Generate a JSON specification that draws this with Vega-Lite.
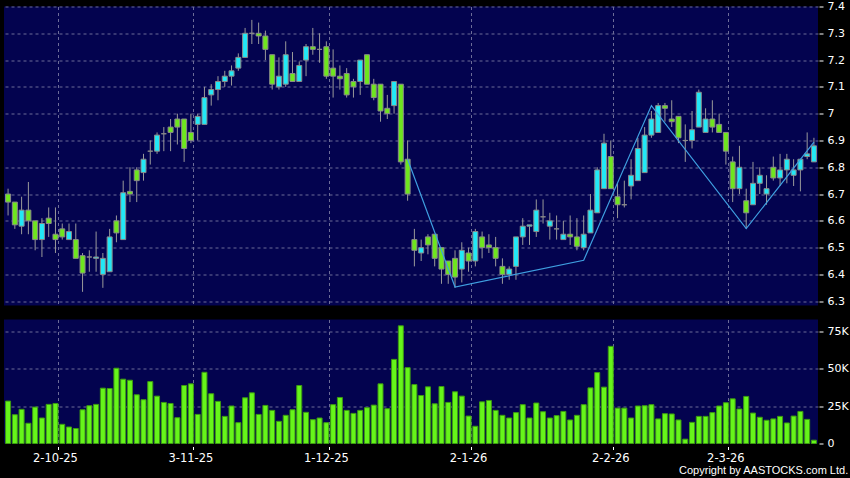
{
 "$schema": "https://vega.github.io/schema/vega-lite/v6.json",
 "background": "#000000",
 "autosize": {"type": "pad"},
 "padding": {"left": 4, "top": 0.5, "right": 4, "bottom": 12},
 "bounds": "flush",
 "spacing": 14,
 "data": {"values": [
{"d":"22-9-25","o":6.70,"h":6.72,"l":6.62,"c":6.67,"v":28300},
{"d":"23-9-25","o":6.67,"h":6.67,"l":6.57,"c":6.585,"v":19200},
{"d":"24-9-25","o":6.58,"h":6.69,"l":6.55,"c":6.64,"v":22800},
{"d":"25-9-25","o":6.64,"h":6.745,"l":6.55,"c":6.60,"v":13500},
{"d":"26-9-25","o":6.60,"h":6.60,"l":6.49,"c":6.53,"v":24300},
{"d":"29-9-25","o":6.53,"h":6.61,"l":6.465,"c":6.59,"v":17000},
{"d":"30-9-25","o":6.61,"h":6.65,"l":6.54,"c":6.59,"v":26100},
{"d":"2-10-25","o":6.55,"h":6.65,"l":6.48,"c":6.53,"v":26700},
{"d":"3-10-25","o":6.57,"h":6.59,"l":6.53,"c":6.54,"v":12800},
{"d":"6-10-25","o":6.53,"h":6.59,"l":6.53,"c":6.56,"v":11000},
{"d":"8-10-25","o":6.53,"h":6.59,"l":6.46,"c":6.46,"v":10000},
{"d":"9-10-25","o":6.47,"h":6.48,"l":6.335,"c":6.405,"v":22500},
{"d":"10-10-25","o":6.465,"h":6.49,"l":6.41,"c":6.465,"v":25200},
{"d":"13-10-25","o":6.46,"h":6.56,"l":6.41,"c":6.465,"v":26100},
{"d":"14-10-25","o":6.40,"h":6.48,"l":6.35,"c":6.46,"v":36900},
{"d":"15-10-25","o":6.41,"h":6.57,"l":6.41,"c":6.54,"v":36700},
{"d":"16-10-25","o":6.60,"h":6.62,"l":6.52,"c":6.555,"v":50200},
{"d":"17-10-25","o":6.53,"h":6.75,"l":6.53,"c":6.705,"v":42900},
{"d":"20-10-25","o":6.71,"h":6.80,"l":6.67,"c":6.70,"v":42200},
{"d":"21-10-25","o":6.79,"h":6.80,"l":6.67,"c":6.75,"v":32500},
{"d":"22-10-25","o":6.78,"h":6.85,"l":6.75,"c":6.83,"v":29200},
{"d":"23-10-25","o":6.86,"h":6.90,"l":6.81,"c":6.86,"v":41300},
{"d":"24-10-25","o":6.86,"h":6.93,"l":6.85,"c":6.92,"v":31600},
{"d":"27-10-25","o":6.925,"h":6.95,"l":6.86,"c":6.925,"v":27400},
{"d":"28-10-25","o":6.95,"h":6.98,"l":6.86,"c":6.93,"v":26700},
{"d":"30-10-25","o":6.98,"h":7.00,"l":6.885,"c":6.95,"v":17200},
{"d":"31-10-25","o":6.98,"h":6.98,"l":6.82,"c":6.87,"v":38700},
{"d":"3-11-25","o":6.93,"h":7.00,"l":6.89,"c":6.90,"v":39800},
{"d":"4-11-25","o":6.96,"h":7.00,"l":6.90,"c":6.99,"v":19400},
{"d":"5-11-25","o":6.96,"h":7.10,"l":6.96,"c":7.06,"v":47500},
{"d":"6-11-25","o":7.07,"h":7.11,"l":7.03,"c":7.09,"v":33200},
{"d":"7-11-25","o":7.09,"h":7.14,"l":7.05,"c":7.12,"v":28100},
{"d":"10-11-25","o":7.12,"h":7.16,"l":7.10,"c":7.14,"v":18100},
{"d":"11-11-25","o":7.14,"h":7.18,"l":7.105,"c":7.16,"v":25000},
{"d":"12-11-25","o":7.17,"h":7.225,"l":7.16,"c":7.21,"v":13900},
{"d":"13-11-25","o":7.21,"h":7.32,"l":7.21,"c":7.30,"v":30500},
{"d":"14-11-25","o":7.30,"h":7.35,"l":7.26,"c":7.30,"v":33800},
{"d":"17-11-25","o":7.30,"h":7.34,"l":7.26,"c":7.29,"v":19400},
{"d":"18-11-25","o":7.29,"h":7.31,"l":7.20,"c":7.24,"v":25400},
{"d":"19-11-25","o":7.22,"h":7.22,"l":7.09,"c":7.11,"v":22100},
{"d":"20-11-25","o":7.10,"h":7.21,"l":7.09,"c":7.14,"v":14800},
{"d":"21-11-25","o":7.11,"h":7.27,"l":7.10,"c":7.22,"v":18800},
{"d":"24-11-25","o":7.15,"h":7.23,"l":7.12,"c":7.12,"v":22500},
{"d":"25-11-25","o":7.12,"h":7.195,"l":7.12,"c":7.18,"v":38700},
{"d":"26-11-25","o":7.20,"h":7.26,"l":7.14,"c":7.25,"v":20800},
{"d":"27-11-25","o":7.25,"h":7.32,"l":7.22,"c":7.24,"v":15900},
{"d":"28-11-25","o":7.24,"h":7.30,"l":7.19,"c":7.24,"v":17000},
{"d":"1-12-25","o":7.25,"h":7.27,"l":7.13,"c":7.14,"v":13900},
{"d":"2-12-25","o":7.17,"h":7.24,"l":7.06,"c":7.14,"v":25900},
{"d":"3-12-25","o":7.14,"h":7.18,"l":7.09,"c":7.13,"v":30700},
{"d":"4-12-25","o":7.15,"h":7.17,"l":7.06,"c":7.07,"v":22100},
{"d":"5-12-25","o":7.12,"h":7.13,"l":7.06,"c":7.10,"v":20100},
{"d":"8-12-25","o":7.12,"h":7.20,"l":7.07,"c":7.20,"v":22100},
{"d":"9-12-25","o":7.22,"h":7.22,"l":7.11,"c":7.11,"v":23900},
{"d":"10-12-25","o":7.11,"h":7.13,"l":7.05,"c":7.06,"v":25600},
{"d":"11-12-25","o":7.11,"h":7.11,"l":6.97,"c":7.01,"v":39800},
{"d":"12-12-25","o":7.02,"h":7.07,"l":6.98,"c":7.00,"v":23200},
{"d":"15-12-25","o":7.03,"h":7.12,"l":7.00,"c":7.12,"v":56100},
{"d":"16-12-25","o":7.11,"h":7.11,"l":6.81,"c":6.82,"v":78500},
{"d":"17-12-25","o":6.83,"h":6.90,"l":6.675,"c":6.70,"v":50600,"z":6.83},
{"d":"18-12-25","o":6.53,"h":6.57,"l":6.43,"c":6.49,"v":39300},
{"d":"19-12-25","o":6.48,"h":6.53,"l":6.45,"c":6.50,"v":32000},
{"d":"22-12-25","o":6.54,"h":6.55,"l":6.475,"c":6.51,"v":37800},
{"d":"23-12-25","o":6.55,"h":6.55,"l":6.43,"c":6.46,"v":26500},
{"d":"24-12-25","o":6.50,"h":6.50,"l":6.365,"c":6.42,"v":38000},
{"d":"29-12-25","o":6.45,"h":6.45,"l":6.365,"c":6.40,"v":27400},
{"d":"30-12-25","o":6.46,"h":6.49,"l":6.35,"c":6.39,"v":34500,"z":6.353},
{"d":"31-12-25","o":6.42,"h":6.52,"l":6.37,"c":6.49,"v":31600},
{"d":"2-1-26","o":6.48,"h":6.50,"l":6.41,"c":6.45,"v":18300},
{"d":"5-1-26","o":6.45,"h":6.57,"l":6.43,"c":6.56,"v":11500},
{"d":"6-1-26","o":6.54,"h":6.56,"l":6.46,"c":6.50,"v":27800},
{"d":"7-1-26","o":6.51,"h":6.55,"l":6.48,"c":6.50,"v":28700},
{"d":"8-1-26","o":6.50,"h":6.54,"l":6.43,"c":6.46,"v":22100},
{"d":"9-1-26","o":6.43,"h":6.46,"l":6.365,"c":6.40,"v":18800},
{"d":"12-1-26","o":6.40,"h":6.43,"l":6.38,"c":6.42,"v":17000},
{"d":"13-1-26","o":6.43,"h":6.54,"l":6.38,"c":6.54,"v":20600},
{"d":"14-1-26","o":6.54,"h":6.61,"l":6.51,"c":6.58,"v":25900},
{"d":"15-1-26","o":6.58,"h":6.58,"l":6.51,"c":6.585,"v":17000},
{"d":"16-1-26","o":6.56,"h":6.68,"l":6.54,"c":6.64,"v":27000},
{"d":"19-1-26","o":6.615,"h":6.68,"l":6.59,"c":6.615,"v":21200},
{"d":"20-1-26","o":6.58,"h":6.63,"l":6.53,"c":6.60,"v":17000},
{"d":"21-1-26","o":6.57,"h":6.62,"l":6.53,"c":6.57,"v":18600},
{"d":"22-1-26","o":6.53,"h":6.60,"l":6.53,"c":6.55,"v":21400},
{"d":"23-1-26","o":6.55,"h":6.62,"l":6.51,"c":6.54,"v":15700},
{"d":"26-1-26","o":6.54,"h":6.61,"l":6.49,"c":6.505,"v":18800},
{"d":"27-1-26","o":6.50,"h":6.62,"l":6.49,"c":6.55,"v":25900,"z":6.453},
{"d":"28-1-26","o":6.555,"h":6.70,"l":6.555,"c":6.64,"v":37100},
{"d":"29-1-26","o":6.63,"h":6.80,"l":6.63,"c":6.79,"v":47300},
{"d":"30-1-26","o":6.72,"h":6.925,"l":6.72,"c":6.89,"v":37600},
{"d":"2-2-26","o":6.84,"h":6.90,"l":6.72,"c":6.72,"v":64800},
{"d":"3-2-26","o":6.69,"h":6.74,"l":6.61,"c":6.66,"v":23600},
{"d":"4-2-26","o":6.66,"h":6.75,"l":6.65,"c":6.66,"v":23600},
{"d":"5-2-26","o":6.73,"h":6.83,"l":6.68,"c":6.77,"v":17000},
{"d":"6-2-26","o":6.75,"h":6.91,"l":6.75,"c":6.87,"v":25000},
{"d":"9-2-26","o":6.78,"h":6.95,"l":6.78,"c":6.92,"v":25200},
{"d":"10-2-26","o":6.92,"h":7.01,"l":6.91,"c":6.98,"v":25900,"z":7.03},
{"d":"11-2-26","o":6.93,"h":7.04,"l":6.93,"c":7.03,"v":16400},
{"d":"12-2-26","o":7.03,"h":7.04,"l":6.97,"c":7.02,"v":19900},
{"d":"13-2-26","o":6.98,"h":7.05,"l":6.95,"c":6.97,"v":19700},
{"d":"16-2-26","o":6.99,"h":6.99,"l":6.89,"c":6.91,"v":15700},
{"d":"20-2-26","o":6.90,"h":6.96,"l":6.82,"c":6.90,"v":2900},
{"d":"23-2-26","o":6.90,"h":7.01,"l":6.87,"c":6.94,"v":14100},
{"d":"24-2-26","o":6.95,"h":7.09,"l":6.95,"c":7.08,"v":18100},
{"d":"25-2-26","o":6.93,"h":7.02,"l":6.93,"c":6.98,"v":18100},
{"d":"26-2-26","o":6.98,"h":7.05,"l":6.93,"c":6.95,"v":20600},
{"d":"27-2-26","o":6.96,"h":7.00,"l":6.93,"c":6.93,"v":25000},
{"d":"2-3-26","o":6.93,"h":6.93,"l":6.81,"c":6.86,"v":27200},
{"d":"3-3-26","o":6.82,"h":6.84,"l":6.67,"c":6.72,"v":29800},
{"d":"4-3-26","o":6.72,"h":6.88,"l":6.70,"c":6.80,"v":23000},
{"d":"5-3-26","o":6.675,"h":6.72,"l":6.57,"c":6.63,"v":31400,"z":6.571},
{"d":"6-3-26","o":6.66,"h":6.82,"l":6.66,"c":6.74,"v":20300},
{"d":"9-3-26","o":6.74,"h":6.80,"l":6.70,"c":6.77,"v":17500},
{"d":"10-3-26","o":6.70,"h":6.77,"l":6.66,"c":6.72,"v":15500},
{"d":"11-3-26","o":6.80,"h":6.84,"l":6.75,"c":6.76,"v":16400},
{"d":"12-3-26","o":6.76,"h":6.85,"l":6.73,"c":6.79,"v":18100},
{"d":"13-3-26","o":6.79,"h":6.85,"l":6.74,"c":6.83,"v":13700},
{"d":"16-3-26","o":6.77,"h":6.83,"l":6.73,"c":6.79,"v":18300},
{"d":"17-3-26","o":6.79,"h":6.83,"l":6.71,"c":6.83,"v":21400},
{"d":"18-3-26","o":6.84,"h":6.93,"l":6.83,"c":6.85,"v":16100},
{"d":"19-3-26","o":6.82,"h":6.91,"l":6.82,"c":6.88,"v":2200,"z":6.894}
 ]},
 "config": {
  "view": {"fill": "#03034f", "stroke": null},
  "axis": {
   "labelColor": "#ffffff", "labelFont": "DejaVu Sans", "labelFontSize": 11,
   "tickColor": "#ffffff", "tickWidth": 1, "domain": false, "title": null,
   "labelOverlap": false,
   "gridColor": "#6c6c98", "gridDash": [3, 3], "gridWidth": 1, "gridOpacity": 1
  }
 },
 "vconcat": [
  {
   "width": 814,
   "height": 299,
   "layer": [
    {
     "mark": {"type": "rule", "color": "#9a9a9a", "strokeWidth": 1},
     "encoding": {
      "x": {"field": "d", "type": "ordinal", "sort": null,
            "scale": {"paddingInner": 0.2, "paddingOuter": 0.2},
            "axis": {"values": ["2-10-25","3-11-25","1-12-25","2-1-26","2-2-26","2-3-26"], "labels": false, "ticks": false, "grid": true, "bandPosition": 1}},
      "y": {"field": "l", "type": "quantitative",
            "scale": {"domain": [6.284, 7.4], "zero": false, "nice": false},
            "axis": {"orient": "right", "values": [6.3,6.4,6.5,6.6,6.7,6.8,6.9,7.0,7.1,7.2,7.3,7.4], "tickCount": 12, "format": ".1~f", "grid": true, "tickSize": 4, "offset": 1, "labelPadding": 4, "labelOverlap": false}},
      "y2": {"field": "h"}
     }
    },
    {
     "mark": {"type": "bar", "size": 5, "stroke": "#8a8a8a", "strokeWidth": 1},
     "encoding": {
      "x": {"field": "d", "type": "ordinal", "sort": null,
            "axis": {"values": ["2-10-25","3-11-25","1-12-25","2-1-26","2-2-26","2-3-26"], "labels": false, "ticks": false, "grid": true, "bandPosition": 1}},
      "y": {"field": "o", "type": "quantitative",
            "axis": {"orient": "right", "values": [6.3,6.4,6.5,6.6,6.7,6.8,6.9,7.0,7.1,7.2,7.3,7.4], "tickCount": 12, "format": ".1~f", "grid": true, "tickSize": 4, "offset": 1, "labelPadding": 4, "labelOverlap": false}},
      "y2": {"field": "c"},
      "fill": {"condition": {"test": "datum.c > datum.o", "value": "#22e8f6"}, "value": "#6ee61e"}
     }
    },
    {
     "transform": [{"filter": "datum.z != null"}],
     "mark": {"type": "line", "color": "#3f9fe0", "strokeWidth": 1.2},
     "encoding": {
      "x": {"field": "d", "type": "ordinal", "sort": null,
            "axis": {"values": ["2-10-25","3-11-25","1-12-25","2-1-26","2-2-26","2-3-26"], "labels": false, "ticks": false, "grid": true, "bandPosition": 1}},
      "y": {"field": "z", "type": "quantitative",
            "axis": {"orient": "right", "values": [6.3,6.4,6.5,6.6,6.7,6.8,6.9,7.0,7.1,7.2,7.3,7.4], "tickCount": 12, "format": ".1~f", "grid": true, "tickSize": 4, "offset": 1, "labelPadding": 4, "labelOverlap": false}}
     }
    }
   ]
  },
  {
   "width": 814,
   "height": 124,
   "title": {"text": "Copyright by AASTOCKS.com Ltd.", "orient": "bottom", "anchor": "end", "frame": "bounds", "color": "#ffffff", "font": "Liberation Sans", "fontSize": 11, "fontWeight": "normal", "offset": 1},
   "mark": {"type": "bar", "size": 5, "fill": "#66f51a", "stroke": "#3d9a12", "strokeWidth": 1},
   "encoding": {
    "x": {"field": "d", "type": "ordinal", "sort": null,
          "scale": {"paddingInner": 0.2, "paddingOuter": 0.2},
          "axis": {"values": ["2-10-25","3-11-25","1-12-25","2-1-26","2-2-26","2-3-26"], "labelAngle": 0, "labelFontSize": 11.5, "grid": true, "bandPosition": 1, "tickSize": 3, "offset": 3, "labelPadding": 3}},
    "y": {"field": "v", "type": "quantitative",
          "scale": {"domain": [0, 82700], "nice": false},
          "axis": {"orient": "right", "values": [0, 25000, 50000, 75000], "labelExpr": "datum.value == 0 ? '0' : format(datum.value / 1000, 'd') + 'K'", "grid": true, "gridColor": {"condition": {"test": "datum.value == 0", "value": "transparent"}, "value": "#6c6c98"}, "tickSize": 4, "offset": 1, "labelPadding": 4, "labelOverlap": false}}
   }
  }
 ]
}
